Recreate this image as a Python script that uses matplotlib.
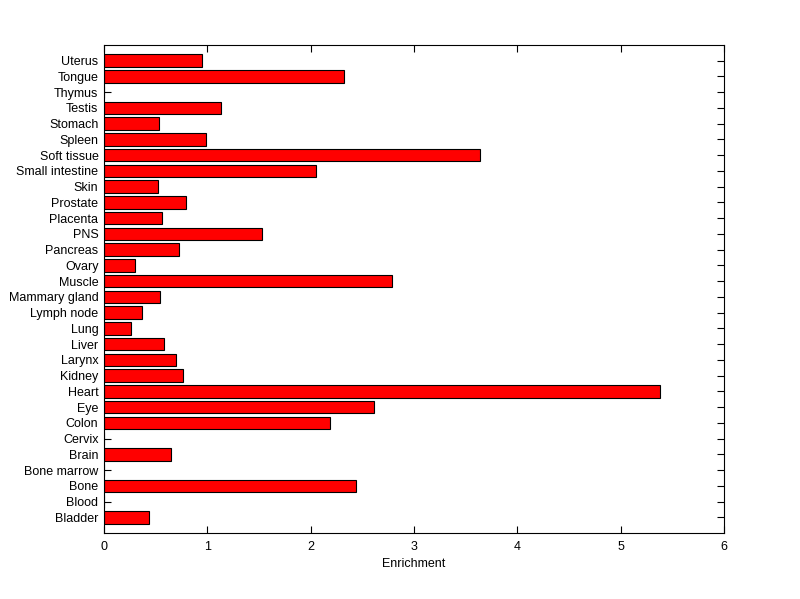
#!/usr/bin/env python3

import matplotlib
matplotlib.use('Agg')
import matplotlib.pyplot as plt
import numpy as np

# bottom to top, as drawn
TISSUES = ['Bladder', 'Blood', 'Bone', 'Bone marrow', 'Brain', 'Cervix',
           'Colon', 'Eye', 'Heart', 'Kidney', 'Larynx', 'Liver', 'Lung',
           'Lymph node', 'Mammary gland', 'Muscle', 'Ovary', 'Pancreas',
           'PNS', 'Placenta', 'Prostate', 'Skin', 'Small intestine',
           'Soft tissue', 'Spleen', 'Stomach', 'Testis', 'Thymus',
           'Tongue', 'Uterus']
ENRICHMENT = [0.44, 0.0, 2.44, 0.0, 0.65, 0.0,
              2.19, 2.61, 5.38, 0.76, 0.70, 0.58, 0.26,
              0.37, 0.54, 2.79, 0.30, 0.73,
              1.53, 0.56, 0.79, 0.52, 2.05,
              3.64, 0.99, 0.53, 1.13, 0.0,
              2.32, 0.95]
X_TICKS = [0, 1, 2, 3, 4, 5, 6]

plt.rcParams['font.family'] = ['Liberation Sans', 'DejaVu Sans']
plt.rcParams['font.size'] = 9


def main():
    fig = plt.figure(figsize=(8, 5.99), dpi=100)
    ax = fig.add_axes([0.13, 0.11, 0.775, 0.815])
    pos = np.arange(1, len(TISSUES) + 1)
    ax.barh(pos, ENRICHMENT, height=0.8, color='#ff0000',
            edgecolor='black', linewidth=0.8, zorder=1)
    ax.set_axisbelow(True)
    ax.set_xlim(0, 6)
    ax.set_ylim(0, len(TISSUES) + 1)
    ax.set_xticks(X_TICKS)
    ax.set_yticks(pos)
    ax.set_yticklabels(TISSUES)
    ax.set_xlabel('Enrichment', labelpad=3)
    ax.tick_params(direction='in', length=5, width=0.8, top=True,
                   right=True)
    ax.tick_params(axis='x', pad=6)
    ax.tick_params(axis='y', pad=4)
    for sp in ax.spines.values():
        sp.set_linewidth(0.8)
    fig.savefig('out.png', dpi=100)


if __name__ == '__main__':
    main()
